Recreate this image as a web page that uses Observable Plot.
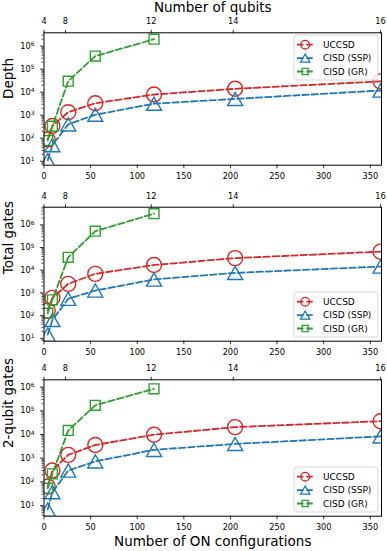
<!DOCTYPE html>
<html>
<head>
<meta charset="utf-8">
<script src="https://cdn.jsdelivr.net/npm/d3@7"></script>
<script src="https://cdn.jsdelivr.net/npm/@observablehq/plot@0.6"></script>
<style>
  body { margin: 0; background: #fff; }
  #wrap { position: relative; width: 387px; height: 551px; background: #fff; overflow: hidden; font-family: "DejaVu Sans", sans-serif; }
  #wrap > svg, #wrap > figure { position: absolute; left: 0; margin: 0; }
</style>
</head>
<body>
<div id="wrap"></div>
<script>
// ---------- data ----------
const xConfigs = [4, 9, 26, 55, 118, 205, 361];
const xConfigsGR = [4, 9, 26, 55, 118];

const depthUCCSD = [88, 340, 1350, 3300, 7900, 14000, 29500];
const depthSSP   = [11, 50, 400, 1050, 3150, 5100, 11800];
const depthGR    = [80, 330, 30000, 370000, 2.0e6];

const totalUCCSD = [166, 600, 2500, 6900, 17000, 34000, 66000];
const totalSSP   = [14.5, 64, 550, 1270, 3900, 7600, 14500];
const totalGR    = [127, 495, 37000, 525000, 3.1e6];

const twoqUCCSD = [63, 300, 1380, 3600, 9800, 20500, 36500];
const twoqSSP   = [6.8, 37, 300, 730, 2250, 4000, 8300];
const twoqGR    = [54, 218, 14800, 170000, 850000];

const seriesNames = ["UCCSD", "CISD (SSP)", "CISD (GR)"];
const seriesColors = ["#d62728", "#1f77b4", "#2ca02c"];

const xTicks = [0, 50, 100, 150, 200, 250, 300, 350];
const qubitLabels = [4, 8, 12, 14, 16];
const qubitTickPos = [0, 23, 115, 203, 361];

const panelLabels = ["Depth", "Total gates", "2-qubit gates"];
const topTitle = "Number of qubits";
const bottomTitle = "Number of ON configurations";

// ---------- symbols (matplotlib-like) ----------
const symCircle = { draw(ctx, size) { const r = Math.sqrt(size / Math.PI); ctx.moveTo(r, 0); ctx.arc(0, 0, r, 0, 2 * Math.PI); ctx.closePath(); } };
const symTriangle = { draw(ctx, size) { const r = Math.sqrt(size / Math.PI); const h = r * 0.88; ctx.moveTo(0, -h); ctx.lineTo(r, h); ctx.lineTo(-r, h); ctx.closePath(); } };
const symSquare = { draw(ctx, size) { const r = Math.sqrt(size / Math.PI) * 0.66; ctx.moveTo(-r, -r); ctx.lineTo(r, -r); ctx.lineTo(r, r); ctx.lineTo(-r, r); ctx.closePath(); } };
const seriesSymbols = [symCircle, symTriangle, symSquare];

const powFmt = v => "10^" + Math.round(Math.log10(v));

const W = 387, ML = 43.5, MR = 6;
const DASH = "6.5,2.8";

function makePanel(cfg) {
  const {top, height, mt, mb, yDomain, yLabel, series, title, xTitle} = cfg;
  const [lo, hi] = yDomain;
  const majors = [], minors = [];
  for (let k = Math.floor(Math.log10(lo)); k <= Math.ceil(Math.log10(hi)); k++) {
    const p = Math.pow(10, k);
    if (p >= lo && p <= hi) majors.push(p);
    for (let m = 2; m <= 9; m++) { const v = m * p; if (v >= lo && v <= hi) minors.push(v); }
  }
  const marks = [
    Plot.axisY({ticks: minors, tickFormat: () => "", tickSize: 2, strokeWidth: 0.7, label: null}),
    Plot.axisY({ticks: majors, tickFormat: powFmt, tickSize: 3.5, tickPadding: 6, strokeWidth: 0.8, label: null}),
    Plot.axisX({anchor: "bottom", ticks: xTicks, tickFormat: d => String(d), tickSize: 3.5, tickPadding: 4.5, strokeWidth: 0.8, label: null}),
    Plot.axisX({anchor: "top", ticks: qubitTickPos, tickFormat: d => String(qubitLabels[qubitTickPos.indexOf(d)]), tickSize: 3.5, tickPadding: 5, strokeWidth: 0.8, label: null}),
  ];
  series.forEach((ys, si) => {
    const xs = ys.length === xConfigs.length ? xConfigs : xConfigsGR;
    const rows = xs.map((x, i) => ({x, y: ys[i]}));
    marks.push(Plot.line(rows, {x: "x", y: "y", stroke: seriesColors[si], strokeWidth: 1.8, strokeDasharray: DASH, clip: true}));
    marks.push(Plot.dot(rows, {x: "x", y: "y", stroke: seriesColors[si], fill: "none", symbol: seriesSymbols[si], r: 7.5, strokeWidth: 1.4, clip: true}));
  });
  marks.push(Plot.frame({stroke: "black", strokeWidth: 1}));
  marks.push(Plot.text([yLabel], {frameAnchor: "left", rotate: -90, dx: -31, lineAnchor: "bottom", fontSize: 13.5}));
  if (title) marks.push(Plot.text([title], {frameAnchor: "top", dy: -21.3, lineAnchor: "bottom", fontSize: 13.5}));
  if (xTitle) marks.push(Plot.text([xTitle], {frameAnchor: "bottom", dy: 30.1, lineAnchor: "bottom", fontSize: 13.5}));

  const svg = Plot.plot({
    width: W, height,
    marginLeft: ML, marginRight: MR, marginTop: mt, marginBottom: mb,
    x: {domain: [0, 362]},
    y: {type: "log", domain: yDomain},
    style: {fontFamily: "DejaVu Sans", fontSize: "8.2px", background: "transparent", overflow: "visible", color: "black"},
    marks
  });
  // render "10^k" tick labels as 10 with a raised exponent (like matplotlib mathtext)
  d3.select(svg).selectAll("text").each(function () {
    const el = d3.select(this);
    if (el.selectAll("tspan").size() > 0) return;
    const m = /^10\^(-?\d+)$/.exec(el.text());
    if (!m) return;
    el.text("10");
    el.append("tspan").attr("dy", "-0.42em").attr("font-size", "0.72em").text(m[1]);
  });
  svg.style.top = top + "px";
  return svg;
}

const wrap = document.getElementById("wrap");
wrap.appendChild(makePanel({top: 0, height: 187, mt: 32.3, mb: 22.3, yDomain: [6.7, 3.8e6], yLabel: panelLabels[0], series: [depthUCCSD, depthSSP, depthGR], title: topTitle}));
wrap.appendChild(makePanel({top: 187, height: 172, mt: 19.7, mb: 18.3, yDomain: [7.4, 6.0e6], yLabel: panelLabels[1], series: [totalUCCSD, totalSSP, totalGR]}));
wrap.appendChild(makePanel({top: 359, height: 192, mt: 20.3, mb: 35.3, yDomain: [3.55, 2.04e6], yLabel: panelLabels[2], series: [twoqUCCSD, twoqSSP, twoqGR], xTitle: bottomTitle}));

// ---------- legends ----------
const legendTops = [35, 292, 467];
const lsvg = d3.select(wrap).append("svg")
  .attr("width", W).attr("height", 551)
  .style("position", "absolute").style("top", "0px").style("left", "0px").style("pointer-events", "none");
const legendSyms = [d3.symbol(symCircle, Math.PI * 4.3 * 4.3), d3.symbol(symTriangle, Math.PI * 4.6 * 4.6), d3.symbol(symSquare, Math.PI * 4.6 * 4.6)];
legendTops.forEach(t => {
  const g = lsvg.append("g");
  g.append("rect").attr("x", 294).attr("y", t).attr("width", 84).attr("height", 45).attr("rx", 2.5)
    .attr("fill", "white").attr("fill-opacity", 0.8).attr("stroke", "#cccccc").attr("stroke-width", 0.8);
  seriesNames.forEach((name, i) => {
    const cy = t + 9.7 + i * 13.4;
    g.append("line").attr("x1", 297).attr("x2", 313.5).attr("y1", cy).attr("y2", cy)
      .attr("stroke", seriesColors[i]).attr("stroke-width", 1.8).attr("stroke-dasharray", DASH);
    g.append("path").attr("d", legendSyms[i]()).attr("transform", `translate(305.2,${cy})`)
      .attr("fill", "none").attr("stroke", seriesColors[i]).attr("stroke-width", 1.3);
    g.append("text").attr("x", 323).attr("y", cy).attr("dy", "0.35em")
      .attr("font-family", "DejaVu Sans").attr("font-size", 9).attr("fill", "black").text(name);
  });
});
</script>
</body>
</html>
